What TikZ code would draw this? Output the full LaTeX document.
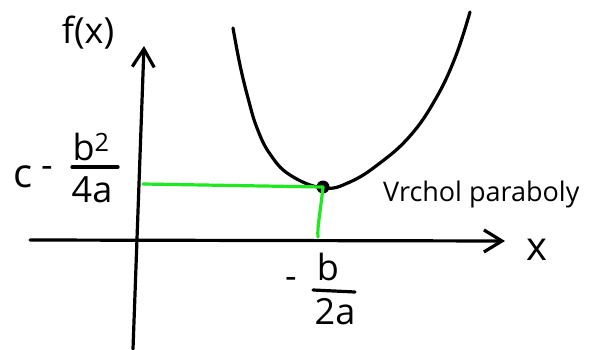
\documentclass[tikz,border=0pt]{standalone}
\usepackage{fontspec}
\setmainfont{Open Sans}
\usetikzlibrary{arrows.meta}
\definecolor{guidegreen}{RGB}{30,232,30}
\begin{document}
\begin{tikzpicture}[x=1pt,y=-1pt,line cap=round,line join=round,
  ink/.style={line width=3.2pt,black},
  guide/.style={line width=3.2pt,guidegreen},
  lbl/.style={font=\fontsize{36}{38}\selectfont,inner sep=0pt},
  big/.style={font=\fontsize{40}{42}\selectfont,inner sep=0pt},
  small/.style={font=\fontsize{27}{29}\selectfont,inner sep=0pt},
  tip/.style={-{Straight Barb[length=18pt,width=22pt,line width=3.2pt]}}]
\useasboundingbox (0,0) rectangle (599,350);
% axes
\coordinate (xs) at (30,240);
\coordinate (xe) at (505,241);
\coordinate (ys) at (133,349);
\coordinate (ye) at (144,46);
\draw[ink,tip] (xs) -- (xe);
\draw[ink,tip] (ys) -- (ye);
% parabola
\draw[ink] plot[smooth,tension=0.7] coordinates {(233,28) (240,65) (248,98) (257,128) (270,154) (290,175) (323,188) (350,182) (380,163) (410,136) (435,100) (455,58) (470,12)};
% vertex and guides
\node[circle,fill=black,inner sep=0pt,minimum size=13pt] (vertex) at (323,187) {};
\coordinate (gy) at (143,184);
\coordinate (gx) at (318,237);
\draw[guide] (gy) -- (vertex.center);
\draw[guide] (vertex.center) .. controls (320,215) and (317,228) .. (gx);
% labels
\node[lbl] (fx) at (88,33) {f(x)};
\node[big] (c) at (23,177) {c};
\node[lbl] (cm) at (47,172) {-};
\node[lbl] (num1) at (91,147) {b\textsuperscript{2}};
\coordinate (b1l) at (72,167);
\coordinate (b1r) at (118,167);
\draw[ink] (b1l) -- (b1r);
\node[lbl] (den1) at (92,190) {4a};
\node[lbl] (xm) at (291,283) {-};
\node[lbl] (num2) at (328,267) {b};
\coordinate (b2l) at (313,290);
\coordinate (b2r) at (355,292);
\draw[ink] (b2l) -- (b2r);
\node[lbl] (den2) at (335,312) {2a};
\node[small,anchor=base west] (vp) at (383,201) {Vrchol paraboly};
\node[big] (xl) at (537,250) {x};
\end{tikzpicture}
\end{document}
